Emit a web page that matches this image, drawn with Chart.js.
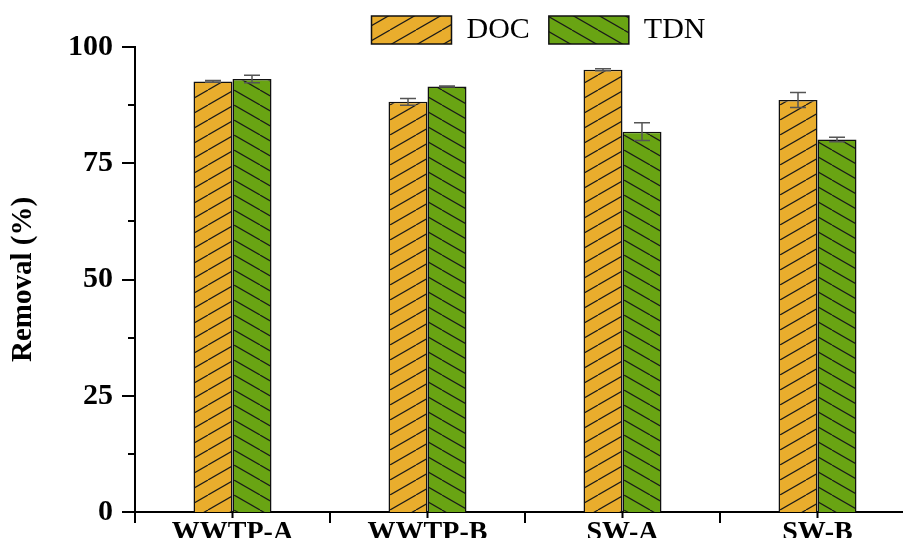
<!DOCTYPE html>
<html>
<head>
<meta charset="utf-8">
<script src="https://cdn.jsdelivr.net/npm/chart.js@4.4.1/dist/chart.umd.min.js"></script>
<style>
  html, body { margin: 0; padding: 0; background: #fff; overflow: hidden; }
  canvas { display: block; }
</style>
</head>
<body>
<canvas id="chart" width="920" height="538"></canvas>
<script>
// dados
const sites = ['WWTP-A', 'WWTP-B', 'SW-A', 'SW-B'];
const docValues = [92.6, 88.2, 95.1, 88.6];
const docErrors = [0.2, 0.7, 0.2, 1.6];
const tdnValues = [93.1, 91.5, 81.8, 80.1];
const tdnErrors = [0.8, 0.1, 1.9, 0.5];
const yTicks = [0, 25, 50, 75, 100];
const yMinorTicks = [12.5, 37.5, 62.5, 87.5];

const serif = "'Liberation Serif', 'Times New Roman', serif";

// hachura: '/' para DOC e '\' para TDN
function makeHatch(bg, rising) {
    const w = 26, h = 15;
    const c = document.createElement('canvas');
    c.width = w; c.height = h;
    const g = c.getContext('2d');
    g.fillStyle = bg;
    g.fillRect(0, 0, w, h);
    g.strokeStyle = '#1a1a1a';
    g.lineWidth = 1.2;
    for (let k = -1; k <= 1; k++) {
        g.beginPath();
        if (rising) {
            g.moveTo(k * w, h);
            g.lineTo(k * w + w, 0);
        } else {
            g.moveTo(k * w, 0);
            g.lineTo(k * w + w, h);
        }
        g.stroke();
    }
    return g.createPattern(c, 'repeat');
}

const docFill = makeHatch('#E9AD2D', true);
const tdnFill = makeHatch('#69A413', false);

const errorBars = {
    id: 'errorBars',
    afterDatasetsDraw(chart) {
        const ctx = chart.ctx;
        const y = chart.scales.y;
        ctx.save();
        ctx.strokeStyle = '#555';
        ctx.lineWidth = 1.5;
        chart.data.datasets.forEach((ds, i) => {
            const meta = chart.getDatasetMeta(i);
            meta.data.forEach((bar, j) => {
                const v = ds.data[j], e = ds.errors[j];
                const top = y.getPixelForValue(v + e);
                const bot = y.getPixelForValue(v - e);
                ctx.beginPath();
                ctx.moveTo(bar.x, top); ctx.lineTo(bar.x, bot);
                ctx.moveTo(bar.x - 8, top); ctx.lineTo(bar.x + 8, top);
                ctx.moveTo(bar.x - 8, bot); ctx.lineTo(bar.x + 8, bot);
                ctx.stroke();
            });
        });
        ctx.restore();
    }
};

// marcas dos eixos (maiores e menores)
const axisTicks = {
    id: 'axisTicks',
    afterLayout(chart) {
        // legenda deslocada para a direita, como no original
        const lg = chart.legend;
        lg.left += 81;
        lg.right += 81;
    },
    afterDraw(chart) {
        const ctx = chart.ctx;
        const x = chart.scales.x, y = chart.scales.y;
        const a = chart.chartArea;
        ctx.save();
        ctx.strokeStyle = '#000';
        ctx.lineWidth = 2;
        ctx.beginPath();
        yTicks.forEach(t => {
            const py = Math.round(y.getPixelForValue(t));
            ctx.moveTo(a.left - 13, py); ctx.lineTo(a.left, py);
        });
        yMinorTicks.forEach(t => {
            const py = Math.round(y.getPixelForValue(t));
            ctx.moveTo(a.left - 7, py); ctx.lineTo(a.left, py);
        });
        const half = (x.getPixelForValue(1) - x.getPixelForValue(0)) / 2;
        sites.forEach((s, i) => {
            const px = x.getPixelForValue(i);
            ctx.moveTo(px, a.bottom); ctx.lineTo(px, a.bottom + 6);
            ctx.moveTo(px - half, a.bottom); ctx.lineTo(px - half, a.bottom + 11);
        });
        ctx.stroke();
        ctx.restore();
    }
};

const data = {
    labels: sites,
    datasets: [{
        label: 'DOC',
        data: docValues,
        errors: docErrors,
        backgroundColor: docFill,
        borderColor: '#111',
        borderWidth: 1.5
    }, {
        label: 'TDN',
        data: tdnValues,
        errors: tdnErrors,
        backgroundColor: tdnFill,
        borderColor: '#111',
        borderWidth: 1.5
    }]
};

const config = {
    type: 'bar',
    data: data,
    options: {
        responsive: false,
        animation: false,
        categoryPercentage: 0.4,
        barPercentage: 1.0,
        layout: { padding: { top: -4, right: 5 } },
        plugins: {
            legend: {
                position: 'top',
                maxHeight: 51,
                labels: {
                    boxWidth: 80,
                    boxHeight: 28,
                    padding: 19,
                    color: '#000',
                    font: { family: serif, size: 30 }
                }
            },
            tooltip: { enabled: false }
        },
        scales: {
            x: {
                offset: true,
                grid: { display: false },
                border: { display: true, color: '#000', width: 2 },
                ticks: {
                    color: '#000',
                    padding: -4,
                    font: { family: serif, size: 28, weight: 'bold' }
                },
                afterFit(scale) { scale.height = 26; }
            },
            y: {
                min: 0,
                max: 100,
                afterBuildTicks(scale) { scale.ticks = yTicks.map(v => ({ value: v })); },
                grid: { display: false },
                border: { display: true, color: '#000', width: 2 },
                ticks: {
                    color: '#000',
                    padding: 14,
                    font: { family: serif, size: 30, weight: 'bold' }
                },
                title: {
                    display: true,
                    text: 'Removal (%)',
                    color: '#000',
                    padding: { top: 6, bottom: 0 },
                    font: { family: serif, size: 29, weight: 'bold' }
                },
                afterFit(scale) {
                    scale.width = 135;
                    scale.paddingTop = 0;
                    scale.paddingBottom = 0;
                }
            }
        }
    },
    plugins: [errorBars, axisTicks]
};

const myChart = new Chart(document.getElementById('chart'), config);
</script>
</body>
</html>
